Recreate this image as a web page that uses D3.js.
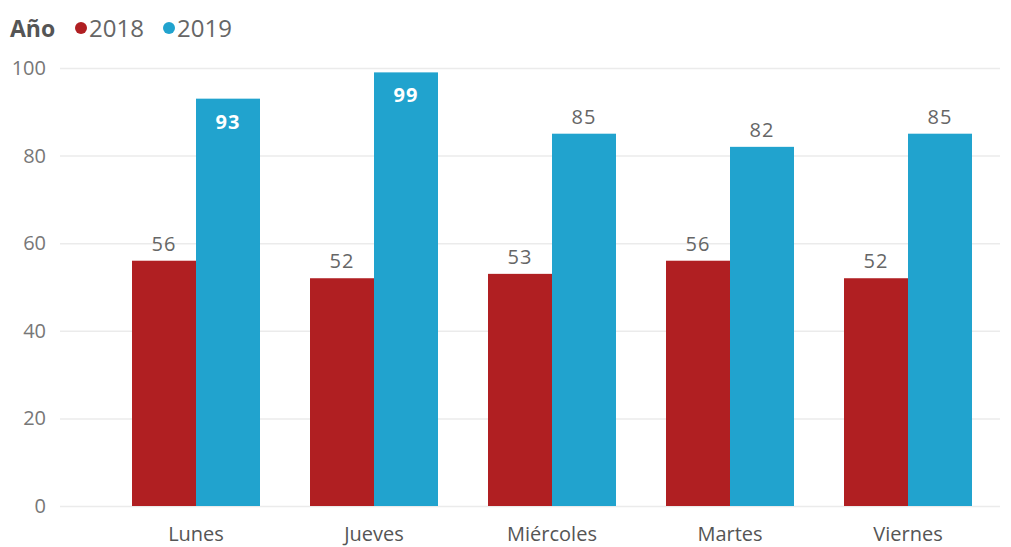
<!DOCTYPE html>
<html>
<head>
<meta charset="utf-8">
<script src="https://cdn.jsdelivr.net/npm/d3@7"></script>
<style>
  html, body { margin: 0; padding: 0; background: #fff; }
  svg { display: block; font-family: "Open Sans", "Noto Sans", sans-serif; }
</style>
</head>
<body>
<svg id="chart" width="1011" height="547"></svg>
<script>
// Días de la semana y conteos por año
const days = ["Lunes", "Jueves", "Miércoles", "Martes", "Viernes"];
const years = ["2018", "2019"];
const values2018 = [56, 52, 53, 56, 52];
const values2019 = [93, 99, 85, 82, 85];
const yTicks = [0, 20, 40, 60, 80, 100];
const colors = ["#B01F22", "#21A3CE"];

const svg = d3.select("#chart");

const x = d3.scaleBand().domain(days).range([107, 997])
  .paddingInner(0.281).paddingOuter(0.1405);
const xs = d3.scaleBand().domain(years).range([0, x.bandwidth()]);
const y = d3.scaleLinear().domain([0, 100]).range([506, 68]);

// Líneas de cuadrícula y etiquetas del eje Y
const yAxis = d3.axisLeft(y).tickValues(yTicks).tickSize(-(1000 - 60)).tickPadding(14);
const gy = svg.append("g").attr("transform", "translate(60,0)").call(yAxis);
gy.select(".domain").remove();
gy.selectAll(".tick line").attr("stroke", "#EBEBEB").attr("stroke-width", 1.5);
gy.selectAll(".tick text").attr("fill", "#777").attr("font-size", 20).attr("font-family", "Open Sans, sans-serif");

// Eje X
const xAxis = d3.axisBottom(x).tickSize(0).tickPadding(21);
const gx = svg.append("g").attr("transform", "translate(0,506)").call(xAxis);
gx.select(".domain").remove();
gx.selectAll(".tick text").attr("fill", "#555").attr("font-size", 20).attr("font-family", "Open Sans, sans-serif");

// Barras agrupadas
const rows = days.map((d, i) => ({ day: d, vals: [values2018[i], values2019[i]] }));
const groups = svg.append("g").selectAll("g").data(rows).join("g")
  .attr("transform", d => `translate(${x(d.day)},0)`);

groups.selectAll("rect").data(d => d.vals.map((v, j) => ({ v, j })))
  .join("rect")
  .attr("x", d => xs(years[d.j]))
  .attr("width", xs.bandwidth())
  .attr("y", d => y(d.v))
  .attr("height", d => y(0) - y(d.v))
  .attr("fill", d => colors[d.j]);

// Etiquetas de datos: dentro de la barra si no caben encima
groups.selectAll("text.lbl").data(d => d.vals.map((v, j) => ({ v, j })))
  .join("text")
  .attr("class", "lbl")
  .attr("x", d => xs(years[d.j]) + xs.bandwidth() / 2)
  .attr("text-anchor", "middle")
  .attr("font-size", 20)
  .attr("letter-spacing", 1)
  .each(function(d) {
    const inside = y(d.v) < 110;
    d3.select(this)
      .attr("y", inside ? y(d.v) + 30 : y(d.v) - 10)
      .attr("fill", inside ? "#fff" : "#666")
      .attr("font-weight", inside ? "bold" : "normal");
  })
  .text(d => d.v);

// Leyenda
const leg = svg.append("g").attr("transform", "translate(10,37)");
leg.append("text").attr("x", 0).attr("y", 0).attr("font-size", 23)
  .attr("font-weight", "bold").attr("fill", "#555").text("Año");
const legX = [71, 159];
years.forEach((yr, j) => {
  leg.append("circle").attr("cx", legX[j]).attr("cy", -9).attr("r", 6).attr("fill", colors[j]);
  leg.append("text").attr("x", legX[j] + 8).attr("y", 0).attr("font-size", 24)
    .attr("fill", "#666").text(yr);
});
</script>
</body>
</html>
